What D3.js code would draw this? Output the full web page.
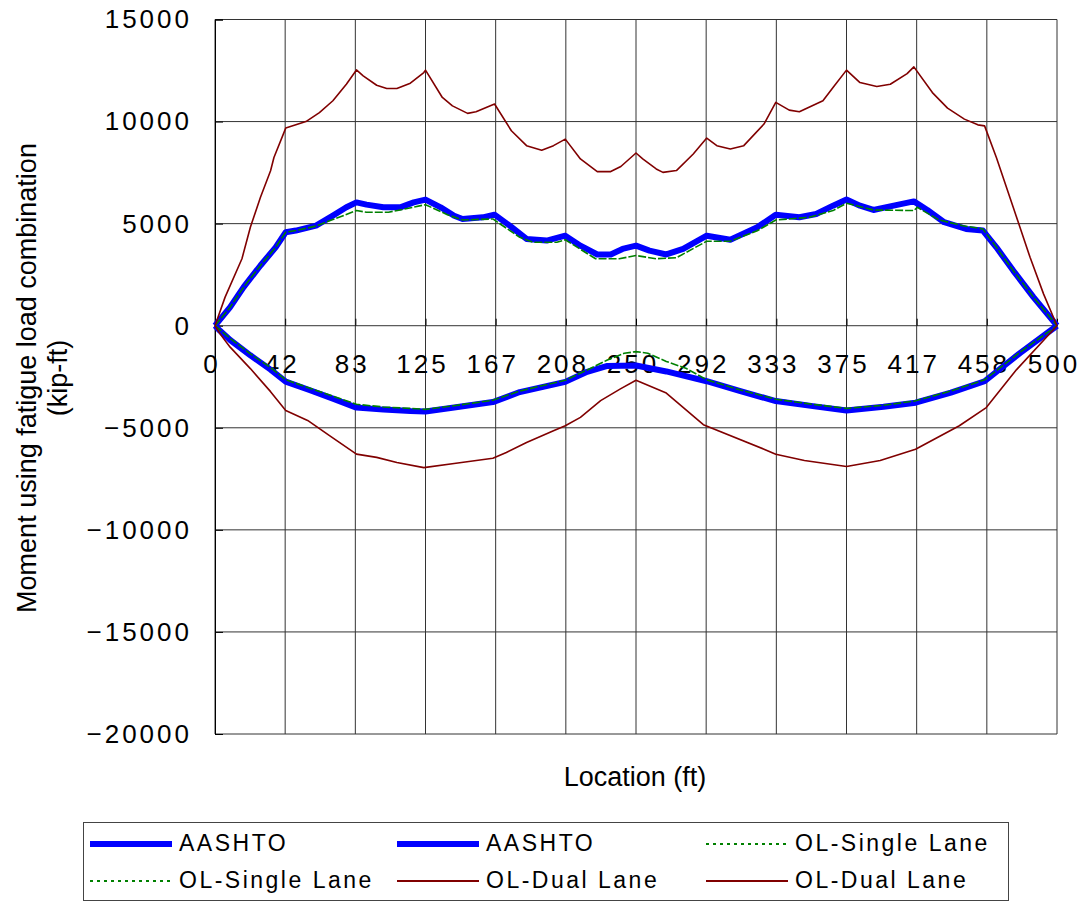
<!DOCTYPE html>
<html>
<head>
<meta charset="utf-8">
<script src="https://d3js.org/d3.v7.min.js"></script>
<style>
  body { margin: 0; background: #fff; }
  text { font-family: "Liberation Sans", Arial, sans-serif; fill: #000; }
</style>
</head>
<body>
<svg id="chart" width="1086" height="901"></svg>
<script>
// ---- data (location in ft, moment in kip-ft) ----
const xTickValues = d3.range(0, 13).map(i => i * 500 / 12);
const xTickLabels = ["0", "42", "83", "125", "167", "208", "250", "292", "333", "375", "417", "458", "500"];
const yTickValues = [-20000, -15000, -10000, -5000, 0, 5000, 10000, 15000];

const aashtoPosLoc = [0, 9, 17, 27, 36, 42, 48, 60, 70, 78, 84, 90, 100, 110, 118, 125, 134, 142, 147, 159, 166, 175, 185, 197, 208, 217, 227, 235, 242, 250, 258, 268, 278, 292, 306, 322, 333, 347, 357, 367, 375, 383, 391, 403, 415, 423, 433, 446, 456, 464, 474, 486, 500];
const aashtoPos = [0, 910, 1890, 2950, 3840, 4580, 4660, 4900, 5390, 5800, 6040, 5930, 5800, 5800, 6040, 6180, 5800, 5390, 5230, 5310, 5440, 4900, 4250, 4170, 4410, 3920, 3490, 3490, 3760, 3920, 3680, 3490, 3760, 4410, 4210, 4820, 5440, 5310, 5470, 5880, 6180, 5880, 5670, 5880, 6090, 5670, 5070, 4740, 4660, 3840, 2700, 1400, 0];

const singlePosLoc = [0, 9, 17, 27, 36, 42, 48, 60, 70, 84, 90, 103, 110, 125, 138, 147, 165, 181, 189, 203, 208, 226, 240, 250, 262, 274, 292, 306, 322, 333, 353, 367, 375, 391, 415, 417, 430, 444, 456, 464, 474, 486, 500];
const singlePos = [0, 910, 1890, 2950, 3840, 4580, 4660, 4880, 5200, 5640, 5560, 5560, 5670, 5930, 5440, 5180, 5230, 4330, 4090, 4090, 4210, 3280, 3280, 3440, 3280, 3330, 4140, 4140, 4650, 5180, 5310, 5640, 6000, 5670, 5640, 5800, 5180, 4900, 4740, 3840, 2700, 1400, 0];

const dualPosLoc = [0, 6, 16, 21, 27, 33, 35, 42, 48, 54, 62, 70, 78, 84, 88, 96, 102, 108, 116, 124, 125, 135, 141, 150, 155, 166, 176, 185, 194, 201, 208, 217, 227, 235, 241, 250, 254, 262, 266, 274, 284, 292, 298, 306, 314, 326, 333, 341, 347, 361, 367, 375, 383, 393, 401, 411, 415, 426, 435, 445, 453, 457, 464, 474, 484, 492, 500];
const dualPos = [0, 1400, 3280, 4820, 6290, 7590, 8240, 9680, 9840, 10000, 10440, 11020, 11830, 12530, 12240, 11780, 11620, 11620, 11880, 12400, 12520, 11180, 10770, 10400, 10480, 10860, 9550, 8820, 8600, 8820, 9140, 8170, 7550, 7550, 7800, 8460, 8170, 7680, 7510, 7600, 8410, 9190, 8820, 8660, 8820, 9880, 10940, 10560, 10480, 11020, 11670, 12520, 11910, 11720, 11830, 12350, 12680, 11420, 10660, 10120, 9840, 9790, 8240, 5800, 3350, 1560, 0];

const aashtoNegLoc = [0, 3, 9, 21, 33, 42, 56, 70, 84, 100, 116, 125, 142, 165, 181, 208, 221, 233, 250, 268, 292, 312, 333, 355, 375, 397, 416, 437, 457, 478, 500];
const aashtoNeg = [0, -250, -700, -1450, -2150, -2740, -3150, -3570, -4010, -4110, -4180, -4200, -4010, -3740, -3250, -2750, -2260, -1970, -1950, -2240, -2720, -3210, -3690, -3940, -4150, -3970, -3770, -3280, -2720, -1340, 0];

const singleNegLoc = [0, 3, 9, 21, 33, 42, 56, 70, 84, 100, 116, 125, 142, 165, 181, 208, 221, 233, 243, 250, 257, 268, 280, 292, 312, 333, 355, 375, 397, 416, 437, 457, 478, 500];
const singleNeg = [0, -200, -620, -1380, -2050, -2650, -3050, -3450, -3850, -3980, -4050, -4100, -3920, -3650, -3200, -2670, -2170, -1680, -1350, -1270, -1350, -1750, -2100, -2650, -3150, -3600, -3850, -4050, -3900, -3680, -3200, -2650, -1300, 0];

const dualNegLoc = [0, 3, 9, 21, 33, 42, 55, 68, 84, 96, 108, 124, 142, 165, 173, 185, 201, 208, 217, 229, 241, 250, 268, 290, 326, 333, 350, 375, 395, 416, 442, 458, 476, 500];
const dualNeg = [0, -400, -1050, -2100, -3230, -4150, -4640, -5380, -6290, -6450, -6700, -6950, -6750, -6490, -6210, -5720, -5150, -4900, -4490, -3670, -3080, -2670, -3300, -4850, -6050, -6300, -6600, -6900, -6600, -6050, -4900, -4010, -2150, 0];

const legendNames = ["AASHTO", "AASHTO", "OL-Single Lane", "OL-Single Lane", "OL-Dual Lane", "OL-Dual Lane"];

// ---- drawing ----
const svg = d3.select("#chart");
const x = d3.scaleLinear().domain([0, 500]).range([215, 1057]);
const y = d3.scaleLinear().domain([-20000, 15000]).range([734, 19.5]);

const styles = {
    aashto: {stroke: "#0000ff", width: 6, dash: null},
    single: {stroke: "#008000", width: 1.6, dash: "8,2"},
    dual: {stroke: "#800000", width: 1.6, dash: null}
};

// grid
const grid = svg.append("g");
grid.selectAll("line.v").data(xTickValues).join("line")
    .attr("class", "v")
    .attr("x1", d => x(d)).attr("x2", d => x(d))
    .attr("y1", y(15000)).attr("y2", y(-20000))
    .attr("stroke", "#333").attr("stroke-width", 1);
grid.selectAll("line.h").data(yTickValues).join("line")
    .attr("class", "h")
    .attr("x1", x(0)).attr("x2", x(500))
    .attr("y1", d => y(d)).attr("y2", d => y(d))
    .attr("stroke", "#333").attr("stroke-width", 1);

// y axis with inward ticks
const yAxis = svg.append("g")
    .attr("transform", `translate(${x(0)},0)`)
    .call(d3.axisRight(y).tickValues(yTickValues).tickSize(8).tickFormat(""));
yAxis.select(".domain").attr("stroke", "#000");
yAxis.selectAll(".tick line").attr("stroke", "#000");

svg.append("g").selectAll("text").data(yTickValues).join("text")
    .attr("x", 192)
    .attr("y", d => y(d) + 2)
    .attr("text-anchor", "end")
    .attr("dominant-baseline", "middle")
    .attr("font-size", 26)
    .attr("letter-spacing", 3)
    .text(d => d3.format("d")(d).replace("-", "\u2212"));

// x axis on zero line, ticks pointing up
const xAxis = svg.append("g")
    .attr("transform", `translate(0,${y(0)})`)
    .call(d3.axisBottom(x).tickValues(xTickValues).tickSize(-7).tickFormat(""));
xAxis.select(".domain").remove();
xAxis.selectAll(".tick line").attr("stroke", "#000");

svg.append("g").selectAll("text").data(xTickValues).join("text")
    .attr("x", d => x(d) - 3)
    .attr("y", y(0) + 47)
    .attr("text-anchor", "middle")
    .attr("font-size", 26)
    .attr("letter-spacing", 3)
    .text((d, i) => xTickLabels[i]);

// series
const line = d3.line().x(d => x(d[0])).y(d => y(d[1]));
const series = [
    {loc: aashtoPosLoc, val: aashtoPos, s: styles.aashto},
    {loc: aashtoNegLoc, val: aashtoNeg, s: styles.aashto},
    {loc: singlePosLoc, val: singlePos, s: styles.single},
    {loc: singleNegLoc, val: singleNeg, s: styles.single},
    {loc: dualPosLoc, val: dualPos, s: styles.dual},
    {loc: dualNegLoc, val: dualNeg, s: styles.dual}
];
svg.append("g").selectAll("path").data(series).join("path")
    .attr("d", d => line(d.loc.map((l, i) => [l, d.val[i]])))
    .attr("fill", "none")
    .attr("stroke", d => d.s.stroke)
    .attr("stroke-width", d => d.s.width)
    .attr("stroke-dasharray", d => d.s.dash)
    .attr("stroke-linejoin", "round");

// axis titles
svg.append("text")
    .attr("transform", "translate(36,378) rotate(-90)")
    .attr("text-anchor", "middle")
    .attr("font-size", 27)
    .text("Moment using fatigue load combination");
svg.append("text")
    .attr("transform", "translate(67,378) rotate(-90)")
    .attr("text-anchor", "middle")
    .attr("font-size", 27)
    .text("(kip-ft)");
svg.append("text")
    .attr("x", 635).attr("y", 786)
    .attr("text-anchor", "middle")
    .attr("font-size", 27)
    .text("Location (ft)");

// legend
const legend = svg.append("g");
legend.append("rect")
    .attr("x", 83.5).attr("y", 822.5).attr("width", 925).attr("height", 78)
    .attr("fill", "#fff").attr("stroke", "#444").attr("stroke-width", 1);
const legendItems = [
    {name: legendNames[0], s: styles.aashto, col: 0, row: 0},
    {name: legendNames[1], s: styles.aashto, col: 1, row: 0},
    {name: legendNames[2], s: styles.single, col: 2, row: 0},
    {name: legendNames[3], s: styles.single, col: 0, row: 1},
    {name: legendNames[4], s: styles.dual, col: 1, row: 1},
    {name: legendNames[5], s: styles.dual, col: 2, row: 1}
];
const colX = [90, 397, 706];
const rowY = [844, 881];
const items = legend.selectAll("g.item").data(legendItems).join("g")
    .attr("class", "item")
    .attr("transform", d => `translate(${colX[d.col]},${rowY[d.row]})`);
items.append("line")
    .attr("x1", 0).attr("x2", 82)
    .attr("stroke", d => d.s.stroke)
    .attr("stroke-width", d => d.s.width === 6 ? 6 : 2)
    .attr("stroke-dasharray", d => d.s.dash ? "3,4" : null);
items.append("text")
    .attr("x", 89).attr("y", 1)
    .attr("dominant-baseline", "middle")
    .attr("font-size", 23)
    .attr("letter-spacing", 2.5)
    .text(d => d.name);
</script>
</body>
</html>
